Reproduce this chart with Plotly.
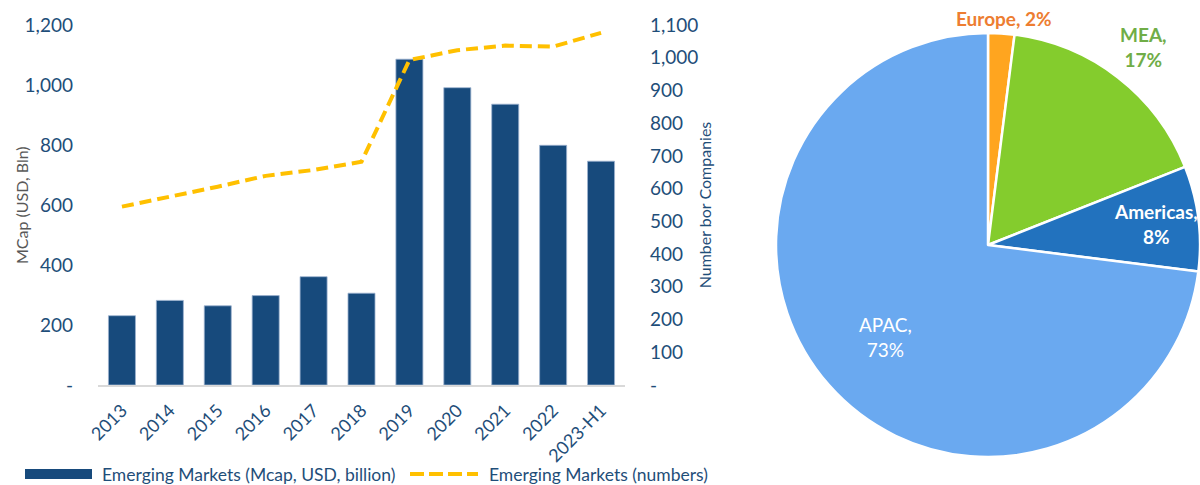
import math
import plotly.graph_objects as go

# ---------------- data ----------------
years = ["2013", "2014", "2015", "2016", "2017", "2018", "2019", "2020", "2021", "2022", "2023-H1"]
mcap_bn = [231, 282, 264, 298, 361, 306, 1086, 991, 936, 799, 746]
num_companies = [545, 575, 606, 639, 657, 682, 993, 1023, 1037, 1034, 1076]

left_tickvals = [0, 200, 400, 600, 800, 1000, 1200]
left_ticktext = ["-", "200", "400", "600", "800", "1,000", "1,200"]
right_tickvals = [0, 100, 200, 300, 400, 500, 600, 700, 800, 900, 1000, 1100]
right_ticktext = ["-", "100", "200", "300", "400", "500", "600", "700", "800", "900", "1,000", "1,100"]

regions = ["Europe", "MEA", "Americas", "APAC"]
region_share = [2, 17, 8, 73]

bar_name = "Emerging Markets (Mcap, USD, billion)"
line_name = "Emerging Markets (numbers)"
left_title = "MCap (USD, Bln)"
right_title = "Number bor Companies"

# ---------------- styles ----------------
W, H = 1200, 485
FONT = "Lato"
BLUE_TXT = "#1F4E79"
BAR_COL = "#174A7C"
LINE_COL = "#FFC000"
slice_colors = ["#FFA51F", "#84CC2D", "#2272BE", "#6AA9F0"]
label_colors = ["#ED7D31", "#70AD47", "white", "white"]
label_bold = [True, True, True, False]
label_radius = [1.06, 1.17, 0.78, 0.65]
label_break = [False, True, True, True]

def px_x(p):
    return p / W

def px_y(p):
    return 1 - p / H

fig = go.Figure()

fig.add_trace(go.Bar(
    x=years, y=mcap_bn, name=bar_name,
    marker=dict(color=BAR_COL, line=dict(color="#9DB3CF", width=0.8)),
    xaxis="x", yaxis="y",
))
fig.add_trace(go.Scatter(
    x=years, y=num_companies, name=line_name, mode="lines",
    line=dict(color=LINE_COL, width=4, dash="12px,6px"),
    xaxis="x", yaxis="y2",
))

# pie
pie_x0, pie_x1 = 776, 1204
pie_y0, pie_y1 = 31, 459
fig.add_trace(go.Pie(
    labels=regions, values=region_share, sort=False, direction="clockwise",
    rotation=0, textinfo="none",
    marker=dict(colors=slice_colors, line=dict(color="white", width=2.5)),
    domain=dict(x=[px_x(pie_x0), 1.0], y=[px_y(pie_y1), px_y(pie_y0)]),
    showlegend=False,
))

# pie labels computed from data
cx = (pie_x0 + pie_x1) / 2
cy = (pie_y0 + pie_y1) / 2
r = (pie_y1 - pie_y0) / 2
total = sum(region_share)
cum = 0
annotations = []
for i, (name, v) in enumerate(zip(regions, region_share)):
    mid = (cum + v / 2) / total * 2 * math.pi
    cum += v
    f = label_radius[i]
    lx = cx + f * r * math.sin(mid)
    ly = cy - f * r * math.cos(mid)
    sep = "<br>" if label_break[i] else " "
    txt = f"{name},{sep}{v}%"
    if label_bold[i]:
        txt = f"<b>{txt}</b>"
    annotations.append(dict(
        x=px_x(lx), y=px_y(ly), xref="paper", yref="paper", text=txt,
        showarrow=False, xanchor="center", yanchor="middle", align="center",
        font=dict(family=FONT, size=19, color=label_colors[i]),
    ))

# left axis title
annotations.append(dict(x=px_x(21), y=px_y(205), xref="paper", yref="paper",
                        text=left_title, textangle=-90, showarrow=False,
                        xanchor="center", yanchor="middle",
                        font=dict(family=FONT, size=16, color="#595959")))

# custom legend
leg_y = 474
shapes = [
    dict(type="rect", xref="paper", yref="paper",
         x0=px_x(25), x1=px_x(92), y0=px_y(479), y1=px_y(469),
         fillcolor=BAR_COL, line=dict(width=0)),
    dict(type="line", xref="paper", yref="paper",
         x0=px_x(410), x1=px_x(478), y0=px_y(leg_y), y1=px_y(leg_y),
         line=dict(color=LINE_COL, width=4, dash="14px,5px")),
]
annotations.append(dict(x=px_x(100), y=px_y(leg_y), xref="paper", yref="paper",
                        text=bar_name, showarrow=False, xanchor="left", yanchor="middle",
                        font=dict(family=FONT, size=17.5, color=BLUE_TXT)))
annotations.append(dict(x=px_x(487), y=px_y(leg_y), xref="paper", yref="paper",
                        text=line_name, showarrow=False, xanchor="left", yanchor="middle",
                        font=dict(family=FONT, size=17.5, color=BLUE_TXT)))

fig.update_layout(
    width=W, height=H,
    margin=dict(l=0, r=0, t=0, b=0, autoexpand=False),
    paper_bgcolor="white", plot_bgcolor="white",
    showlegend=False,
    bargap=0.436,
    font=dict(family=FONT, color=BLUE_TXT),
    xaxis=dict(
        domain=[px_x(98), px_x(625)], type="category", automargin=False,
        showline=True, linecolor="#D9D9D9", linewidth=2,
        showgrid=False, zeroline=False, ticks="",
        tickangle=-45, tickfont=dict(size=18, color=BLUE_TXT),
        ticklabelstandoff=6,
    ),
    yaxis=dict(
        domain=[px_y(385), px_y(25)], range=[0, 1200], automargin=False,
        tickvals=left_tickvals, ticktext=left_ticktext,
        showgrid=False, zeroline=False, showline=False,
        tickfont=dict(size=19, color=BLUE_TXT), ticklabelstandoff=24,
    ),
    yaxis2=dict(
        overlaying="y", side="right", anchor="x", range=[0, 1100], automargin=False,
        tickvals=right_tickvals, ticktext=right_ticktext,
        showgrid=False, zeroline=False, showline=False,
        tickfont=dict(size=19, color=BLUE_TXT), ticklabelstandoff=24,
        title=dict(text=right_title, font=dict(size=16, color=BLUE_TXT), standoff=2),
    ),
    shapes=shapes,
    annotations=annotations,
)

fig.write_html("out.html")
